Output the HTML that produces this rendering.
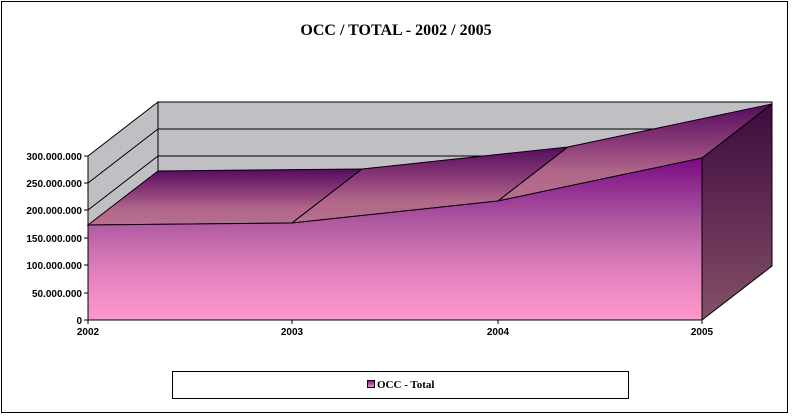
<!DOCTYPE html>
<html><head><style>
html,body{margin:0;padding:0;background:#fff;}
svg{display:block;}
</style></head><body>
<svg width="793" height="420" xmlns="http://www.w3.org/2000/svg">
<defs>
<linearGradient id="front" x1="0" y1="158" x2="0" y2="320" gradientUnits="userSpaceOnUse">
<stop offset="0" stop-color="#7a0a82"/>
<stop offset="0.4" stop-color="#b05aa2"/>
<stop offset="0.7" stop-color="#e080bd"/>
<stop offset="1" stop-color="#ff99cc"/>
</linearGradient>
<linearGradient id="top" x1="0" y1="0" x2="0" y2="1">
<stop offset="0" stop-color="#540c5e"/>
<stop offset="0.4" stop-color="#8a3a78"/>
<stop offset="0.7" stop-color="#b06688"/>
<stop offset="1" stop-color="#b8708e"/>
</linearGradient>
<linearGradient id="side" x1="0" y1="104" x2="0" y2="320" gradientUnits="userSpaceOnUse">
<stop offset="0" stop-color="#3e0a3e"/>
<stop offset="1" stop-color="#845068"/>
</linearGradient>
<linearGradient id="leg" x1="0" y1="0" x2="0" y2="1">
<stop offset="0" stop-color="#7a0a82"/><stop offset="1" stop-color="#ff99cc"/>
</linearGradient>
</defs>
<rect x="1.5" y="1.5" width="786" height="411" fill="#fff" stroke="#000" stroke-width="1"/>
<text x="396" y="35" text-anchor="middle" font-family="Liberation Serif,serif" font-weight="bold" font-size="16">OCC / TOTAL - 2002 / 2005</text>
<polygon points="158,102 772,102 772,266 158,266" fill="#c0c0c4" stroke="#000"/>
<polygon points="88,156 158,102 158,266 88,320" fill="#c0c0c4" stroke="#000"/>
<g stroke="#000" fill="none">
<line x1="158" y1="129" x2="772" y2="129"/>
<line x1="158" y1="156" x2="772" y2="156"/>
<line x1="88" y1="183" x2="158" y2="129"/>
<line x1="88" y1="210" x2="158" y2="156"/>
</g>
<polygon points="88,225 292,223 362,169 158,171" fill="url(#top)" stroke="#000"/>
<polygon points="292,223 498,201 568,147 362,169" fill="url(#top)" stroke="#000"/>
<polygon points="498,201 702,158 772,104 568,147" fill="url(#top)" stroke="#000"/>
<polygon points="702,158 772,104 772,266 702,320" fill="url(#side)" stroke="#000"/>
<polygon points="88,225 292,223 498,201 702,158 702,320 88,320" fill="url(#front)" stroke="#000"/>
<g stroke="#000">
<line x1="88" y1="156" x2="88" y2="320"/>
<line x1="88" y1="320" x2="702" y2="320"/>
<line x1="84" y1="320" x2="88" y2="320"/><line x1="84" y1="293" x2="88" y2="293"/>
<line x1="84" y1="265" x2="88" y2="265"/><line x1="84" y1="238" x2="88" y2="238"/>
<line x1="84" y1="210" x2="88" y2="210"/><line x1="84" y1="183" x2="88" y2="183"/>
<line x1="84" y1="156" x2="88" y2="156"/>
<line x1="88" y1="320" x2="88" y2="324"/><line x1="292" y1="320" x2="292" y2="324"/>
<line x1="498" y1="320" x2="498" y2="324"/><line x1="702" y1="320" x2="702" y2="324"/>
</g>
<g font-family="Liberation Sans,sans-serif" font-weight="bold" font-size="10" text-anchor="end">
<text x="82" y="324">0</text>
<text x="82" y="297">50.000.000</text>
<text x="82" y="269">100.000.000</text>
<text x="82" y="242">150.000.000</text>
<text x="82" y="214">200.000.000</text>
<text x="82" y="187">250.000.000</text>
<text x="82" y="160">300.000.000</text>
</g>
<g font-family="Liberation Sans,sans-serif" font-weight="bold" font-size="10" text-anchor="middle">
<text x="88" y="335">2002</text><text x="292" y="335">2003</text>
<text x="498" y="335">2004</text><text x="702" y="335">2005</text>
</g>
<rect x="172.5" y="371.5" width="456" height="27" fill="#fff" stroke="#000"/>
<rect x="367.5" y="380.5" width="7" height="7" fill="url(#leg)" stroke="#000"/>
<text x="377" y="388" font-family="Liberation Serif,serif" font-weight="bold" font-size="11">OCC - Total</text>
</svg>
</body></html>
